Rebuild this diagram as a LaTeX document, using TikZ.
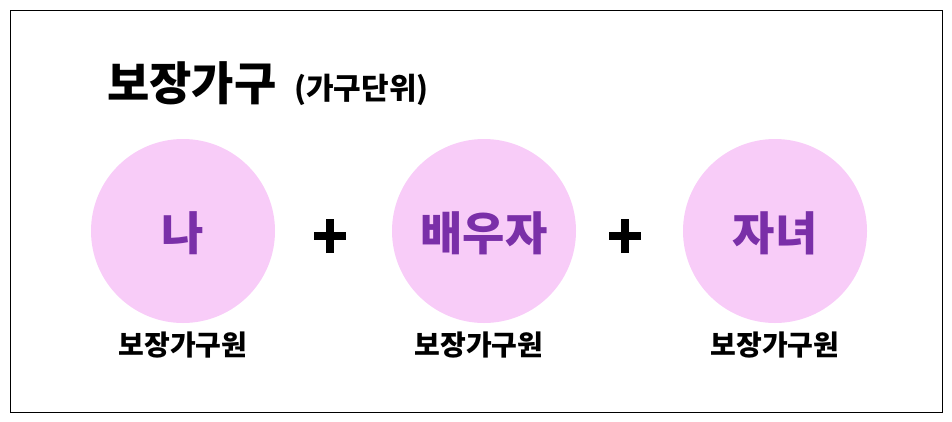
\documentclass[tikz,border=0pt]{standalone}
\usepackage{fontspec}
\setmainfont{Noto Sans CJK KR}
\definecolor{pinkc}{HTML}{F8CCF8}
\definecolor{purp}{HTML}{7A2FA8}
\begin{document}
\begin{tikzpicture}[x=1pt,y=-1pt,
  circ/.style={circle,fill=pinkc,minimum size=184pt,inner sep=0pt},
  ctext/.style={text=purp,font=\fontsize{46}{48}\selectfont\bfseries},
  lab/.style={font=\fontsize{28}{30}\selectfont\bfseries},
  plusbar/.style={line width=8pt}]
\useasboundingbox (0,0) rectangle (952,421);
\node[draw=black,line width=0.8pt,minimum width=932pt,minimum height=402pt,inner sep=0pt] (frame) at (476,211) {};
\node[anchor=west,font=\fontsize{46}{48}\selectfont\bfseries,inner sep=0pt] (title) at (107,83) {보장가구};
\node[anchor=west,font=\fontsize{30}{32}\selectfont\bfseries,inner sep=0pt] (sub) at (294,90) {(가구단위)};
\foreach \n/\x/\t in {a/183/나,b/484/배우자,c/775/자녀}{
  \node[circ] (\n) at (\x,231) {};
  \node[ctext] (\n t) at (\x,233) {\t};
}
\foreach \n/\x in {a/183,b/479,c/775}{
  \node[lab] (\n l) at (\x,345) {보장가구원};
}
\foreach \n/\x in {p1/330,p2/625}{
  \coordinate (\n) at (\x,236);
  \draw[plusbar] ([yshift=-17pt]\n) -- ([yshift=17pt]\n);
  \draw[plusbar] ([xshift=-16pt]\n) -- ([xshift=16pt]\n);
}
\end{tikzpicture}
\end{document}
